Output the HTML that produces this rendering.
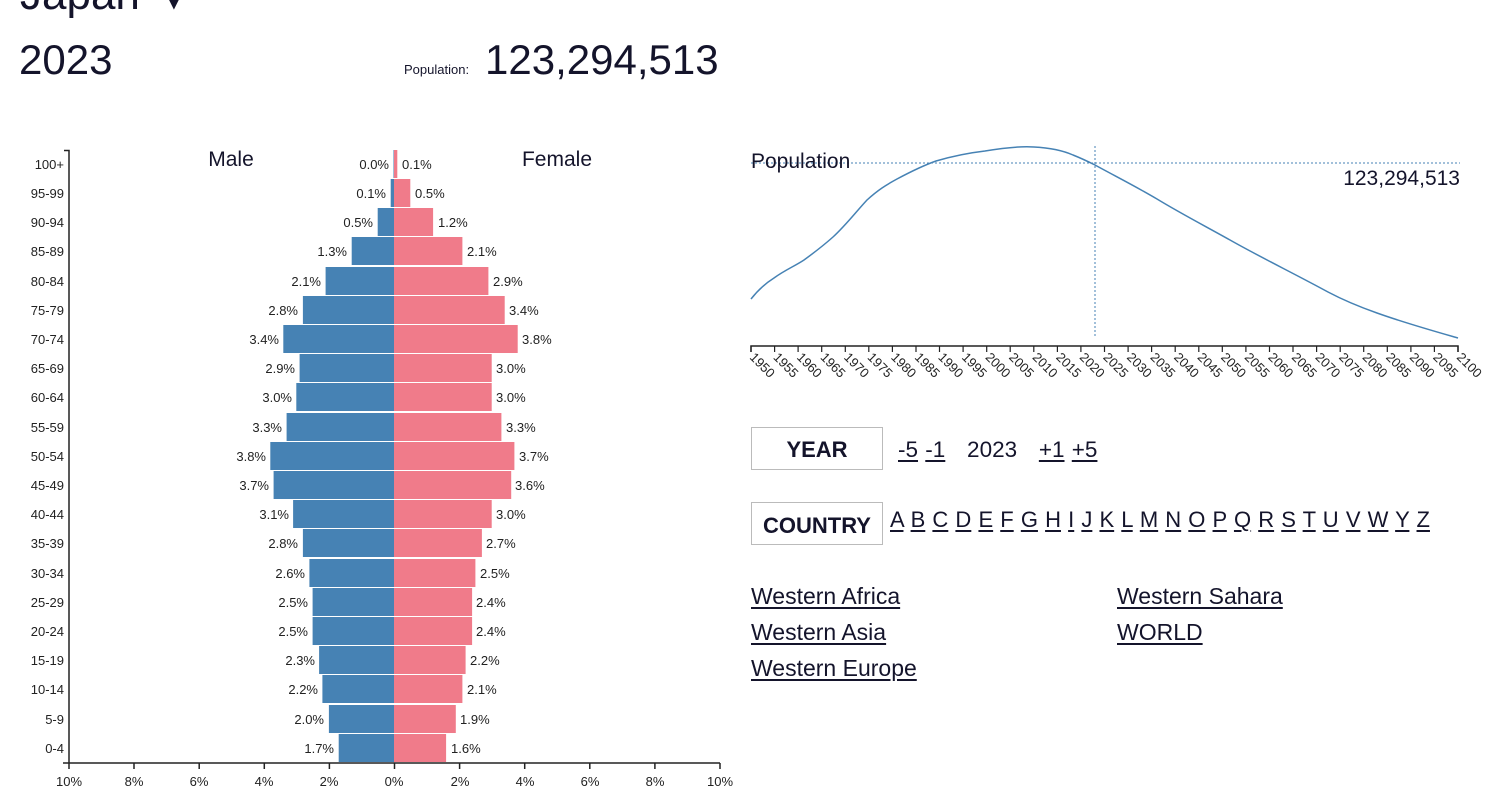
<!DOCTYPE html>
<html><head><meta charset="utf-8"><style>
body{margin:0;width:1506px;height:805px;overflow:hidden;background:#fff;font-family:"Liberation Sans",sans-serif;color:#14142b;position:relative}
.a{position:absolute;white-space:nowrap}
.u{text-decoration:underline;text-underline-offset:3px}
.box{position:absolute;border:1px solid #bbb;font-weight:bold;font-size:22px;text-align:center;box-sizing:border-box}
</style></head><body>
<div class="a" style="left:20px;top:-30px;font-size:44px">Japan ▼</div>
<div class="a" style="left:19px;top:36px;font-size:42px">2023</div>
<div class="a" style="left:404px;top:62px;font-size:13px">Population:</div>
<div class="a" style="left:485px;top:36px;font-size:42px">123,294,513</div>

<svg class="a" style="left:0;top:0" width="1506" height="805" font-family="Liberation Sans, sans-serif">
<g font-size="13" fill="#222">
<text x="231" y="166" font-size="21" text-anchor="middle" fill="#14142b">Male</text>
<text x="557" y="166" font-size="21" text-anchor="middle" fill="#14142b">Female</text>
</g>
<g fill="#4682b4">
<rect x="393.5" y="150" width="0.5" height="28"/>
<rect x="390.7" y="179" width="3.3" height="28"/>
<rect x="377.7" y="208" width="16.3" height="28"/>
<rect x="351.7" y="237" width="42.3" height="28"/>
<rect x="325.6" y="267" width="68.4" height="28"/>
<rect x="302.9" y="296" width="91.1" height="28"/>
<rect x="283.3" y="325" width="110.7" height="28"/>
<rect x="299.6" y="354" width="94.4" height="28"/>
<rect x="296.3" y="383" width="97.7" height="28"/>
<rect x="286.6" y="413" width="107.4" height="28"/>
<rect x="270.3" y="442" width="123.7" height="28"/>
<rect x="273.6" y="471" width="120.4" height="28"/>
<rect x="293.1" y="500" width="100.9" height="28"/>
<rect x="302.9" y="529" width="91.1" height="28"/>
<rect x="309.4" y="559" width="84.6" height="28"/>
<rect x="312.6" y="588" width="81.4" height="28"/>
<rect x="312.6" y="617" width="81.4" height="28"/>
<rect x="319.1" y="646" width="74.9" height="28"/>
<rect x="322.4" y="675" width="71.6" height="28"/>
<rect x="328.9" y="705" width="65.1" height="28"/>
<rect x="338.7" y="734" width="55.3" height="28"/>
</g>
<g fill="#f07b8a">
<rect x="394" y="150" width="3.3" height="28"/>
<rect x="394" y="179" width="16.3" height="28"/>
<rect x="394" y="208" width="39.1" height="28"/>
<rect x="394" y="237" width="68.4" height="28"/>
<rect x="394" y="267" width="94.4" height="28"/>
<rect x="394" y="296" width="110.7" height="28"/>
<rect x="394" y="325" width="123.7" height="28"/>
<rect x="394" y="354" width="97.7" height="28"/>
<rect x="394" y="383" width="97.7" height="28"/>
<rect x="394" y="413" width="107.4" height="28"/>
<rect x="394" y="442" width="120.4" height="28"/>
<rect x="394" y="471" width="117.2" height="28"/>
<rect x="394" y="500" width="97.7" height="28"/>
<rect x="394" y="529" width="87.9" height="28"/>
<rect x="394" y="559" width="81.4" height="28"/>
<rect x="394" y="588" width="78.1" height="28"/>
<rect x="394" y="617" width="78.1" height="28"/>
<rect x="394" y="646" width="71.6" height="28"/>
<rect x="394" y="675" width="68.4" height="28"/>
<rect x="394" y="705" width="61.8" height="28"/>
<rect x="394" y="734" width="52.1" height="28"/>
</g>
<g font-size="13" fill="#222" text-anchor="end">
<text x="389" y="169">0.0%</text><text x="386" y="198">0.1%</text><text x="373" y="227">0.5%</text>
<text x="347" y="256">1.3%</text><text x="321" y="286">2.1%</text><text x="298" y="315">2.8%</text>
<text x="279" y="344">3.4%</text><text x="295" y="373">2.9%</text><text x="292" y="402">3.0%</text>
<text x="282" y="432">3.3%</text><text x="266" y="461">3.8%</text><text x="269" y="490">3.7%</text>
<text x="289" y="519">3.1%</text><text x="298" y="548">2.8%</text><text x="305" y="578">2.6%</text>
<text x="308" y="607">2.5%</text><text x="308" y="636">2.5%</text><text x="315" y="665">2.3%</text>
<text x="318" y="694">2.2%</text><text x="324" y="724">2.0%</text><text x="334" y="753">1.7%</text>
</g>
<g font-size="13" fill="#222">
<text x="402" y="169">0.1%</text><text x="415" y="198">0.5%</text><text x="438" y="227">1.2%</text>
<text x="467" y="256">2.1%</text><text x="493" y="286">2.9%</text><text x="509" y="315">3.4%</text>
<text x="522" y="344">3.8%</text><text x="496" y="373">3.0%</text><text x="496" y="402">3.0%</text>
<text x="506" y="432">3.3%</text><text x="519" y="461">3.7%</text><text x="515" y="490">3.6%</text>
<text x="496" y="519">3.0%</text><text x="486" y="548">2.7%</text><text x="480" y="578">2.5%</text>
<text x="476" y="607">2.4%</text><text x="476" y="636">2.4%</text><text x="470" y="665">2.2%</text>
<text x="467" y="694">2.1%</text><text x="460" y="724">1.9%</text><text x="451" y="753">1.6%</text>
</g>
<g font-size="13" fill="#222" text-anchor="end">
<text x="64" y="169">100+</text><text x="64" y="198">95-99</text><text x="64" y="227">90-94</text>
<text x="64" y="256">85-89</text><text x="64" y="286">80-84</text><text x="64" y="315">75-79</text>
<text x="64" y="344">70-74</text><text x="64" y="373">65-69</text><text x="64" y="402">60-64</text>
<text x="64" y="432">55-59</text><text x="64" y="461">50-54</text><text x="64" y="490">45-49</text>
<text x="64" y="519">40-44</text><text x="64" y="548">35-39</text><text x="64" y="578">30-34</text>
<text x="64" y="607">25-29</text><text x="64" y="636">20-24</text><text x="64" y="665">15-19</text>
<text x="64" y="694">10-14</text><text x="64" y="724">5-9</text><text x="64" y="753">0-4</text>
</g>
<g stroke="#222" stroke-width="1.5" fill="none">
<path d="M64 150.5H69V763M63 763H720"/>
<path d="M69 763v6M134 763v6M199.2 763v6M264.3 763v6M329.4 763v6M394.5 763v6M459.6 763v6M524.7 763v6M589.8 763v6M654.9 763v6M720 763v6"/>
</g>
<g font-size="13" fill="#222" text-anchor="middle">
<text x="69" y="786">10%</text><text x="134" y="786">8%</text><text x="199" y="786">6%</text><text x="264" y="786">4%</text><text x="329" y="786">2%</text><text x="394" y="786">0%</text><text x="460" y="786">2%</text><text x="525" y="786">4%</text><text x="590" y="786">6%</text><text x="655" y="786">8%</text><text x="720" y="786">10%</text>
</g>

<path d="M751 163H1460M1095 146V338" stroke="#4682b4" stroke-dasharray="2,2" fill="none"/>
<path d="M751 299C758 290 766 283 774 278C785 270 795 266 804 260C815 252 824 245 833 237C846 225 855 213 867 200C878 190 886 185 897 179C912 171 922 166 936 161C953 156 968 153 985 151C1003 148 1020 146 1034 147C1052 148 1064 151 1073 155C1083 159 1089 162 1095 165C1115 176 1135 186 1157 199C1180 213 1205 226 1230 240C1260 257 1295 274 1328 292C1345 301 1360 307 1377 313C1405 323 1430 330 1458 338" stroke="#4682b4" stroke-width="1.5" fill="none"/>
<text x="751" y="168" font-size="21" fill="#14142b">Population</text>
<text x="1460" y="185" font-size="21" fill="#14142b" text-anchor="end">123,294,513</text>
<path d="M751 352V346H1458V352" stroke="#222" stroke-width="1.5" fill="none"/>
<path d="M751 346v6M774.6 346v6M798.1 346v6M821.7 346v6M845.3 346v6M868.8 346v6M892.4 346v6M916 346v6M939.5 346v6M963.1 346v6M986.7 346v6M1010.2 346v6M1033.8 346v6M1057.4 346v6M1080.9 346v6M1104.5 346v6M1128.1 346v6M1151.6 346v6M1175.2 346v6M1198.8 346v6M1222.3 346v6M1245.9 346v6M1269.5 346v6M1293 346v6M1316.6 346v6M1340.2 346v6M1363.7 346v6M1387.3 346v6M1410.9 346v6M1434.4 346v6M1458 346v6" stroke="#222" stroke-width="1.2"/>
<g font-size="13" fill="#222">
<text transform="translate(749 358) rotate(45)">1950</text>
<text transform="translate(772.6 358) rotate(45)">1955</text>
<text transform="translate(796.1 358) rotate(45)">1960</text>
<text transform="translate(819.7 358) rotate(45)">1965</text>
<text transform="translate(843.3 358) rotate(45)">1970</text>
<text transform="translate(866.8 358) rotate(45)">1975</text>
<text transform="translate(890.4 358) rotate(45)">1980</text>
<text transform="translate(914 358) rotate(45)">1985</text>
<text transform="translate(937.5 358) rotate(45)">1990</text>
<text transform="translate(961.1 358) rotate(45)">1995</text>
<text transform="translate(984.7 358) rotate(45)">2000</text>
<text transform="translate(1008.2 358) rotate(45)">2005</text>
<text transform="translate(1031.8 358) rotate(45)">2010</text>
<text transform="translate(1055.4 358) rotate(45)">2015</text>
<text transform="translate(1078.9 358) rotate(45)">2020</text>
<text transform="translate(1102.5 358) rotate(45)">2025</text>
<text transform="translate(1126.1 358) rotate(45)">2030</text>
<text transform="translate(1149.6 358) rotate(45)">2035</text>
<text transform="translate(1173.2 358) rotate(45)">2040</text>
<text transform="translate(1196.8 358) rotate(45)">2045</text>
<text transform="translate(1220.3 358) rotate(45)">2050</text>
<text transform="translate(1243.9 358) rotate(45)">2055</text>
<text transform="translate(1267.5 358) rotate(45)">2060</text>
<text transform="translate(1291 358) rotate(45)">2065</text>
<text transform="translate(1314.6 358) rotate(45)">2070</text>
<text transform="translate(1338.2 358) rotate(45)">2075</text>
<text transform="translate(1361.7 358) rotate(45)">2080</text>
<text transform="translate(1385.3 358) rotate(45)">2085</text>
<text transform="translate(1408.9 358) rotate(45)">2090</text>
<text transform="translate(1432.4 358) rotate(45)">2095</text>
<text transform="translate(1456 358) rotate(45)">2100</text>
</g>
</svg>

<div class="box" style="left:751px;top:427px;width:132px;height:43px;line-height:43px">YEAR</div>
<div class="a" style="left:898px;top:437px;font-size:22.5px;word-spacing:1px"><span class="u">-5</span> <span class="u">-1</span> &nbsp; 2023 &nbsp;&nbsp;<span class="u">+1</span> <span class="u">+5</span></div>
<div class="box" style="left:751px;top:502px;width:132px;height:43px;line-height:45px">COUNTRY</div>
<div class="a" style="left:890px;top:507px;font-size:22px;word-spacing:1px"><span class="u">A</span> <span class="u">B</span> <span class="u">C</span> <span class="u">D</span> <span class="u">E</span> <span class="u">F</span> <span class="u">G</span> <span class="u">H</span> <span class="u">I</span> <span class="u">J</span> <span class="u">K</span> <span class="u">L</span> <span class="u">M</span> <span class="u">N</span> <span class="u">O</span> <span class="u">P</span> <span class="u">Q</span> <span class="u">R</span> <span class="u">S</span> <span class="u">T</span> <span class="u">U</span> <span class="u">V</span> <span class="u">W</span> <span class="u">Y</span> <span class="u">Z</span></div>
<div class="a u" style="left:751px;top:583px;font-size:23px">Western Africa</div>
<div class="a u" style="left:751px;top:619px;font-size:23px">Western Asia</div>
<div class="a u" style="left:751px;top:655px;font-size:23px">Western Europe</div>
<div class="a u" style="left:1117px;top:583px;font-size:23px">Western Sahara</div>
<div class="a u" style="left:1117px;top:619px;font-size:23px">WORLD</div>
</body></html>
